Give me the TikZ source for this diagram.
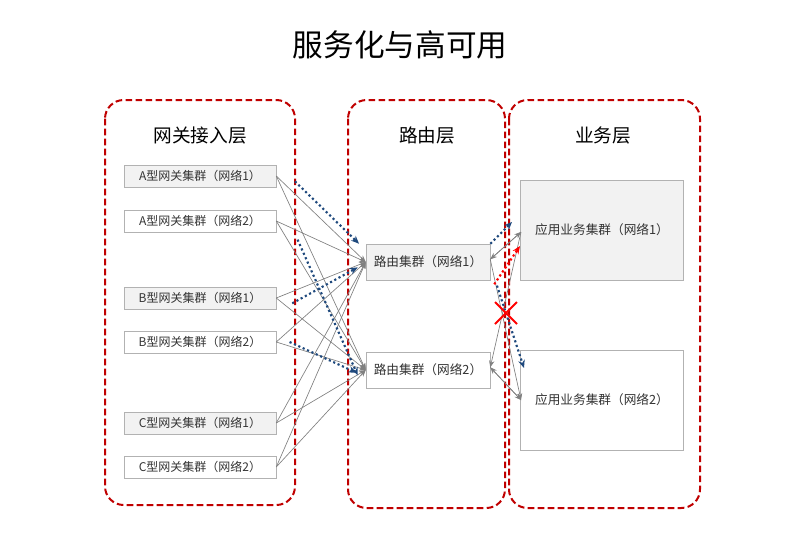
\documentclass[tikz,border=0pt]{standalone}
\usepackage{fontspec}
\newfontfamily\cjk{Noto Sans CJK SC}
\usetikzlibrary{arrows.meta}
\definecolor{dred}{RGB}{192,0,0}
\definecolor{dblue}{RGB}{31,73,125}
\definecolor{gfill}{RGB}{242,242,242}
\begin{document}
\begin{tikzpicture}[x=0.75pt,y=-0.75pt,font=\cjk,
  layer/.style={draw=dred,line width=1.5pt,dashed,dash pattern=on 5pt off 2.5pt,rounded corners=14pt},
  gw/.style={draw=gray!60,minimum width=114pt,minimum height=16.5pt,inner sep=0pt,font=\cjk\fontsize{9}{10}\selectfont,text=black!80},
  rt/.style={draw=gray!60,fill=gfill,minimum width=93pt,minimum height=27pt,inner sep=0pt,font=\cjk\fontsize{9.5}{10}\selectfont,text=black!80},
  app/.style={draw=gray!60,minimum width=122pt,minimum height=75pt,inner sep=0pt,font=\cjk\fontsize{9.5}{10}\selectfont,text=black!80},
  ga/.style={draw=gray,line width=0.5pt,-{Stealth[length=5pt,width=4pt]}},
  ba/.style={draw=dblue,line width=1.6pt,dotted,-{Stealth[length=6pt,width=5pt]}},
  ra/.style={draw=red,line width=1.6pt,dotted,-{Stealth[length=6pt,width=5pt]}},
  hd/.style={font=\cjk\fontsize{14}{16}\selectfont}]
\useasboundingbox (0,0) rectangle (800,544);
\node[font=\cjk\fontsize{23}{26}\selectfont] (title) at (400,45) {服务化与高可用};
\draw[layer] (105,100) rectangle (295,505);
\draw[layer] (348,100) rectangle (505,508);
\draw[layer] (509,100) rectangle (700,508);
\node[hd] (h1) at (200,135) {网关接入层};
\node[hd] (h2) at (427,135) {路由层};
\node[hd] (h3) at (603,135) {业务层};
\node[gw,fill=gfill] (a1) at (200,176) {A型网关集群（网络1）};
\node[gw] (a2) at (200,221) {A型网关集群（网络2）};
\node[gw,fill=gfill] (b1) at (200,298) {B型网关集群（网络1）};
\node[gw] (b2) at (200,342) {B型网关集群（网络2）};
\node[gw,fill=gfill] (c1) at (200,423) {C型网关集群（网络1）};
\node[gw] (c2) at (200,467) {C型网关集群（网络2）};
\node[rt] (r1) at (428,262) {路由集群（网络1）};
\node[rt,fill=white] (r2) at (428,370) {路由集群（网络2）};
\node[app,fill=gfill] (p1) at (602,230) {应用业务集群（网络1）};
\node[app] (p2) at (602,400) {应用业务集群（网络2）};
\foreach \g in {a1,a2,b1,b2,c1,c2}{
  \draw[ga] (\g.east) -- (r1.west);
  \draw[ga] (\g.east) -- (r2.west);
}
\draw[ba] ([xshift=14pt,yshift=-4pt]a1.east) -- ([xshift=-5pt]r1.north west);
\draw[ba] ([xshift=16pt,yshift=-14pt]a2.east) -- ([xshift=-6pt,yshift=-4pt]r2.west);
\draw[ba] ([xshift=12pt,yshift=-4pt]b1.east) -- ([xshift=-6pt,yshift=-4pt]r1.west);
\draw[ba] ([xshift=10pt]b2.east) -- ([xshift=-7pt,yshift=-2pt]r2.west);
% right side
\coordinate (r1e) at ([yshift=2pt]r1.east);
\coordinate (r2e) at ([yshift=2pt]r2.east);
\coordinate (p1w) at (521,232);
\coordinate (p2w) at (521,400);
\draw[ga] (r1e) -- (p1w);
\draw[ga] (p1w) -- (r1e);
\draw[ga] (r1e) -- (p2w);
\draw[ga] (p2w) -- (r2e);
\draw[ga] (r2e) -- (p2w);
\draw[ga] (p1w) -- (r2e);
\draw[ba] (r1.north east) -- (512,222);
\draw[ra] ([xshift=3pt,yshift=-3pt]r1.south east) -- (520,246);
\draw[ba] ([xshift=5pt,yshift=-4pt]r1.south east) -- (524,368);
\coordinate (x) at (506,313);
\draw[red,line width=1.5pt] ([shift={(-11,-11)}]x) -- ([shift={(11,11)}]x) ([shift={(-11,11)}]x) -- ([shift={(11,-11)}]x);
\end{tikzpicture}
\end{document}
